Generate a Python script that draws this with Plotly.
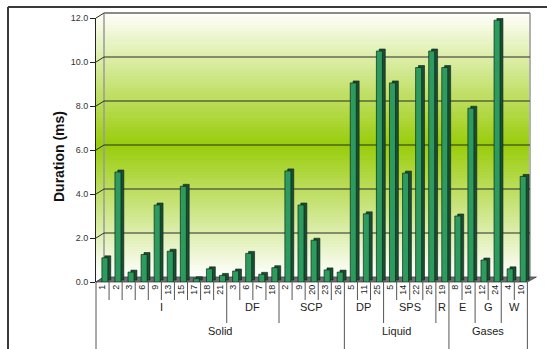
import plotly.graph_objects as go

# ---------------- data ----------------
categories = ["1", "2", "3", "6", "9", "13", "15", "17", "18", "21",
              "3", "6", "7", "18",
              "2", "9", "20", "23", "26",
              "5", "11", "25",
              "5", "14", "22", "25",
              "19",
              "8", "16",
              "12", "24",
              "4", "10"]
durations = [1.1, 5.0, 0.45, 1.25, 3.5, 1.4, 4.35, 0.15, 0.6, 0.3,
             0.5, 1.3, 0.35, 0.65,
             5.05, 3.5, 1.9, 0.55, 0.45,
             9.05, 3.1, 10.5,
             9.05, 4.95, 9.75, 10.5,
             9.75,
             3.0, 7.9,
             1.0, 11.9,
             0.6, 4.8]
group_names = ["I", "DF", "SCP", "DP", "SPS", "R", "E", "G", "W"]
group_sizes = [10, 4, 5, 3, 4, 1, 2, 2, 2]
phase_names = ["Solid", "Liquid", "Gases"]
phase_group_counts = [3, 3, 3]
y_ticks = [0, 2, 4, 6, 8, 10, 12]
y_title = "Duration (ms)"

# ---------------- geometry helpers (pixels -> paper) ----------------
FIG_W, FIG_H = 547, 349
L, R, T, B = 96, 530, 18, 282
W, H = R - L, B - T
DX, DY = 8, 5  # 3D depth offset of back wall
X_MAX = 32.7


def px(x):
    return (x - L) / W


def py(y):
    return (B - y) / H


n = len(categories)
xs = list(range(n))
shapes = []

# gradient back wall
top_c = (255, 255, 250)
mid_c = (153, 204, 10)
bot_c = (255, 255, 255)
wall_top, wall_bot = T - DY, B - DY
mid_y = 145
band = 3
y = wall_top
while y < B:
    yc = y + band / 2
    if yc <= mid_y:
        t = (yc - wall_top) / (mid_y - wall_top)
        c0, c1 = top_c, mid_c
    else:
        t = min(1.0, (yc - mid_y) / (wall_bot - mid_y))
        c0, c1 = mid_c, bot_c
    col = tuple(int(round(c0[k] + (c1[k] - c0[k]) * t)) for k in range(3))
    shapes.append(dict(type="rect", xref="paper", yref="paper",
                       x0=px(L), x1=px(R), y0=py(min(y + band, B)), y1=py(y),
                       fillcolor="rgb(%d,%d,%d)" % col, line=dict(width=0),
                       layer="below"))
    y += band

# back wall edges
shapes.append(dict(type="line", xref="paper", yref="paper",
                   x0=px(L + DX), x1=px(L + DX), y0=py(B - DY), y1=py(T - DY),
                   line=dict(color="#9a9a9a", width=1.5), layer="below"))
shapes.append(dict(type="line", xref="paper", yref="paper",
                   x0=px(R), x1=px(R), y0=py(B - DY), y1=py(T - DY),
                   line=dict(color="#b0b0b0", width=2), layer="below"))

# gridlines on back wall + connectors to front ticks
for v in y_ticks:
    yp = B - v * H / 12.0
    col = "#8a8a8a" if v == 12 else "#2a2a2a"
    wd = 2 if v == 12 else 1
    if v > 0:
        shapes.append(dict(type="line", xref="paper", yref="paper",
                           x0=px(L + DX), x1=px(R), y0=py(yp - DY), y1=py(yp - DY),
                           line=dict(color=col, width=wd), layer="below"))
    shapes.append(dict(type="line", xref="paper", yref="paper",
                       x0=px(L), x1=px(L + DX), y0=py(yp), y1=py(yp - DY),
                       line=dict(color="#2a2a2a", width=1), layer="below"))

# floor
x_front_right = L + n * W / (X_MAX + 0.5)
shapes.append(dict(type="path", xref="paper", yref="paper",
                   path="M %f %f L %f %f L %f %f L %f %f Z" % (
                       px(L), py(B), px(x_front_right), py(B),
                       px(x_front_right + DX + 1), py(B - DY), px(L + DX), py(B - DY)),
                   fillcolor="#6f6f6f", line=dict(color="#444444", width=0.8),
                   layer="below"))

# category separators
lab_col = "#555555"
group_bounds = []
acc = 0
for s in group_sizes:
    acc += s
    group_bounds.append(acc)
phase_bounds = []
acc = 0
for c in phase_group_counts:
    acc += c
    phase_bounds.append(group_bounds[acc - 1])

for i in range(1, n):
    if i in phase_bounds:
        y_end = FIG_H + 5
    elif i in group_bounds:
        y_end = 323
    else:
        y_end = 300
    shapes.append(dict(type="line", xref="x", yref="paper",
                       x0=i - 0.5, x1=i - 0.5, y0=py(B), y1=py(y_end),
                       line=dict(color=lab_col, width=1)))
shapes.append(dict(type="line", xref="x", yref="paper",
                   x0=n - 0.5, x1=n - 0.5, y0=py(B), y1=py(FIG_H + 5),
                   line=dict(color=lab_col, width=1)))
shapes.append(dict(type="line", xref="paper", yref="paper",
                   x0=0, x1=0, y0=py(B), y1=py(FIG_H + 5),
                   line=dict(color=lab_col, width=1)))

# outer frame
shapes.append(dict(type="line", xref="paper", yref="paper",
                   x0=px(8), x1=px(8), y0=py(7), y1=py(FIG_H + 10),
                   line=dict(color="#3a3a3a", width=2)))
shapes.append(dict(type="line", xref="paper", yref="paper",
                   x0=px(8), x1=px(FIG_W + 10), y0=py(7), y1=py(7),
                   line=dict(color="#3a3a3a", width=2)))

# ---------------- annotations ----------------
font_family = "Liberation Sans, Arial, sans-serif"
annotations = []
start = 0
for name, s in zip(group_names, group_sizes):
    annotations.append(dict(x=start + (s - 1) / 2.0, y=py(315), xref="x", yref="paper",
                            text=name, showarrow=False,
                            font=dict(size=11, color="#222222", family=font_family)))
    start += s
gstart = 0
cstart = 0
for name, c in zip(phase_names, phase_group_counts):
    size = sum(group_sizes[gstart:gstart + c])
    annotations.append(dict(x=cstart + (size - 1) / 2.0, y=py(339), xref="x", yref="paper",
                            text=name, showarrow=False,
                            font=dict(size=11, color="#222222", family=font_family)))
    gstart += c
    cstart += size
annotations.append(dict(x=px(49), y=py(157), xref="paper", yref="paper",
                        text="<b>%s</b>" % y_title, textangle=-90, showarrow=False,
                        font=dict(size=14, color="#111111", family=font_family)))

# ---------------- traces ----------------
side = go.Bar(x=xs, y=durations, base=[0.09] * n, width=0.46, offset=0.17,
              marker=dict(color="#1b4d33", line=dict(color="#0b2216", width=0.6)),
              hoverinfo="skip", showlegend=False)
front = go.Bar(x=xs, y=durations, width=0.46, offset=-0.05,
               marker=dict(color="#2e9b5e", line=dict(color="#0b2a18", width=0.7)),
               showlegend=False)

fig = go.Figure([side, front])
fig.update_layout(
    width=FIG_W, height=FIG_H,
    margin=dict(l=L, r=FIG_W - R, t=T, b=FIG_H - B, pad=0),
    paper_bgcolor="white", plot_bgcolor="rgba(0,0,0,0)",
    barmode="overlay",
    shapes=shapes, annotations=annotations,
    font=dict(family=font_family),
    xaxis=dict(range=[-0.5, X_MAX], tickmode="array", tickvals=xs, ticktext=categories,
               tickangle=-90, showgrid=False, zeroline=False, showline=False,
               ticks="", fixedrange=True,
               tickfont=dict(size=9, color="#222222", family=font_family)),
    yaxis=dict(range=[0, 12], tickvals=y_ticks,
               ticktext=["%.1f" % v for v in y_ticks],
               ticks="outside", ticklen=5, tickcolor="#222222", tickwidth=1,
               showline=True, linecolor="#222222", linewidth=1,
               showgrid=False, zeroline=False,
               tickfont=dict(size=9, color="#333333", family=font_family)),
)
fig.write_html("out.html")
